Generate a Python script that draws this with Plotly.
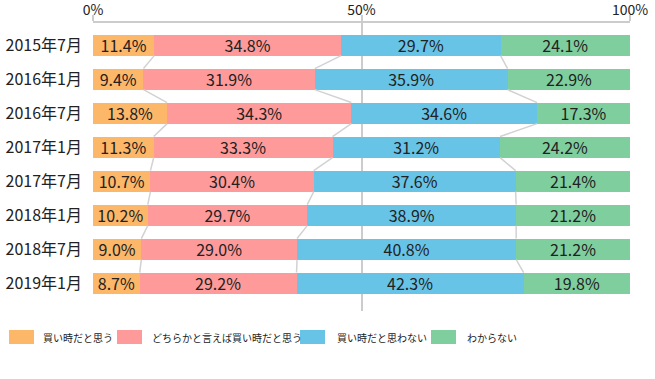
import plotly.graph_objects as go

categories = ["2015年7月", "2016年1月", "2016年7月", "2017年1月",
              "2017年7月", "2018年1月", "2018年7月", "2019年1月"]
series_names = ["買い時だと思う", "どちらかと言えば買い時だと思う", "買い時だと思わない", "わからない"]
s_buy = [11.4, 9.4, 13.8, 11.3, 10.7, 10.2, 9.0, 8.7]
s_rather_buy = [34.8, 31.9, 34.3, 33.3, 30.4, 29.7, 29.0, 29.2]
s_not_buy = [29.7, 35.9, 34.6, 31.2, 37.6, 38.9, 40.8, 42.3]
s_unknown = [24.1, 22.9, 17.3, 24.2, 21.4, 21.2, 21.2, 19.8]
x_ticks = [0, 50, 100]
x_tick_labels = ["0%", "50%", "100%"]

colors = ["#FDB769", "#FF9A9A", "#68C4E6", "#7FCF9E"]
FONT = "Noto Sans CJK JP"
series = [s_buy, s_rather_buy, s_not_buy, s_unknown]
bar_w = 0.62

fig = go.Figure()

# connector lines between segment boundaries
idx = list(range(len(categories)))
cum = []
run = [0.0] * len(categories)
for s in series[:-1]:
    run = [a + b for a, b in zip(run, s)]
    cum.append(run[:])
for c in cum:
    xs, ys = [], []
    for i in range(len(categories) - 1):
        xs += [c[i], c[i + 1], None]
        ys += [i + bar_w / 2, i + 1 - bar_w / 2, None]
    fig.add_trace(go.Scatter(x=xs, y=ys, mode="lines",
                             line=dict(color="#d2d2d2", width=1.5),
                             hoverinfo="skip", showlegend=False))

for name, vals, col in zip(series_names, series, colors):
    fig.add_trace(go.Bar(
        x=vals, y=idx, name=name, orientation="h",
        marker=dict(color=col, line=dict(width=0)),
        width=bar_w,
        text=[f"{v:.1f}%" for v in vals],
        textposition="inside", insidetextanchor="middle",
        textangle=0,
        textfont=dict(family=FONT, size=16, color="#222222"),
        showlegend=False,
    ))

# manual legend
W, H = 537.0, 288.0
L, T = 93.0, 23.0
def px(x):
    return (x - L) / W
def py(y):
    return (T + H - y) / H
sw_x = [9, 117, 300, 431]
tx_x = [41, 150, 335, 465]
for name, col, sx, tx in zip(series_names, colors, sw_x, tx_x):
    fig.add_shape(type="rect", xref="paper", yref="paper",
                  x0=px(sx), x1=px(sx + 25), y0=py(344), y1=py(330),
                  fillcolor=col, line=dict(width=0))
    fig.add_annotation(xref="paper", yref="paper", x=px(tx), y=py(337),
                       text=name, showarrow=False, xanchor="left", yanchor="middle",
                       font=dict(family=FONT, size=10, color="#222222"))

fig.update_layout(
    barmode="stack",
    width=655, height=379,
    margin=dict(l=L, r=655 - L - W, t=T, b=379 - T - H),
    paper_bgcolor="white", plot_bgcolor="white",
    font=dict(family=FONT, color="#222222"),
    showlegend=False,
    uniformtext=dict(minsize=16, mode="show"),
    xaxis=dict(side="top", range=[0, 100], tickvals=x_ticks, ticktext=x_tick_labels,
               showgrid=True, gridcolor="#cccccc", gridwidth=1.5,
               showline=True, linecolor="#cccccc", linewidth=1.5,
               ticks="outside", ticklen=6, tickcolor="#cccccc", tickwidth=1.5,
               ticklabelstandoff=-5,
               tickfont=dict(family=FONT, size=14, color="#222222"),
               zeroline=False, fixedrange=True, automargin=False),
    yaxis=dict(tickvals=idx, ticktext=categories, range=[7.82, -0.65],
               showgrid=False, zeroline=False, showline=False, ticks="",
               ticklabelstandoff=10, automargin=False,
               tickfont=dict(family=FONT, size=16, color="#222222"),
               fixedrange=True),
)

fig.write_html("out.html", config={"displayModeBar": False},
               post_script="document.body.style.margin='0';document.body.style.overflow='hidden';")
